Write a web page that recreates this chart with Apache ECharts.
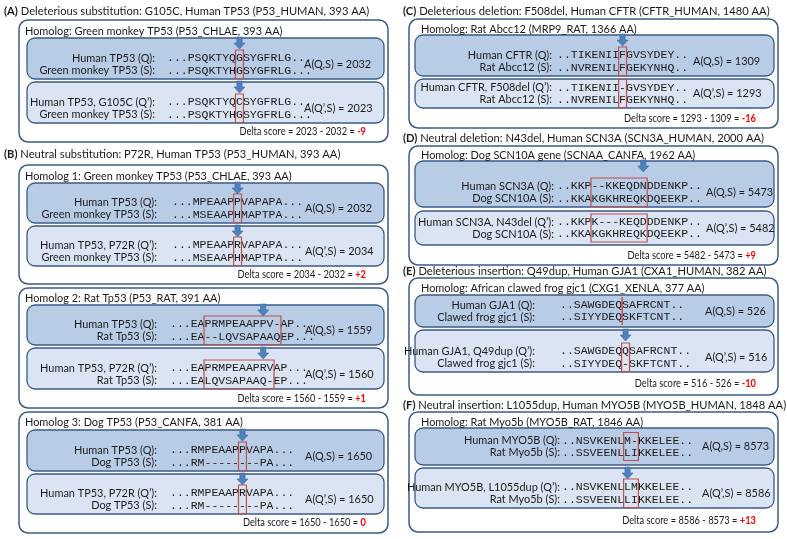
<!DOCTYPE html>
<html><head><meta charset="utf-8">
<script src="https://cdn.jsdelivr.net/npm/echarts@6/dist/echarts.min.js"></script>
<style>html,body{margin:0;padding:0;background:#fff}#c{width:787px;height:539px}</style>
</head><body><div id="c"></div>
<script>
// ---------------- DATA ----------------
const panelLetters = ['(A)', '(B)', '(C)', '(D)', '(E)', '(F)'];
const panelTitles = [
  'Deleterious substitution: G105C, Human TP53 (P53_HUMAN, 393 AA)',
  'Neutral substitution: P72R, Human TP53 (P53_HUMAN, 393 AA)',
  'Deleterious deletion: F508del, Human CFTR (CFTR_HUMAN, 1480 AA)',
  'Neutral deletion: N43del, Human SCN3A (SCN3A_HUMAN, 2000 AA)',
  'Deleterious insertion: Q49dup, Human GJA1 (CXA1_HUMAN, 382 AA)',
  'Neutral insertion: L1055dup, Human MYO5B (MYO5B_HUMAN, 1848 AA)'
];
const homologTitles = [
  'Homolog: Green monkey TP53 (P53_CHLAE, 393 AA)',
  'Homolog 1: Green monkey TP53 (P53_CHLAE, 393 AA)',
  'Homolog 2: Rat Tp53 (P53_RAT, 391 AA)',
  'Homolog 3: Dog TP53 (P53_CANFA, 381 AA)',
  'Homolog: Rat Abcc12 (MRP9_RAT, 1366 AA)',
  'Homolog: Dog SCN10A gene (SCNAA_CANFA, 1962 AA)',
  'Homolog: African clawed frog gjc1 (CXG1_XENLA, 377 AA)',
  'Homolog: Rat Myo5b (MYO5B_RAT, 1846 AA)'
];
const queryLabels = ['Human TP53 (Q):', 'Human TP53 (Q):', 'Human TP53 (Q):', 'Human TP53 (Q):',
  'Human CFTR (Q):', 'Human SCN3A (Q):', 'Human GJA1 (Q):', 'Human MYO5B (Q):'];
const mutantLabels = ['Human TP53, G105C (Q\u2019):', 'Human TP53, P72R (Q\u2019):', 'Human TP53, P72R (Q\u2019):',
  'Human TP53, P72R (Q\u2019):', 'Human CFTR, F508del (Q\u2019):', 'Human SCN3A, N43del (Q\u2019):',
  'Human GJA1, Q49dup (Q\u2019):', 'Human MYO5B, L1055dup (Q\u2019):'];
const subjectLabels = ['Green monkey TP53 (S):', 'Green monkey TP53 (S):', 'Rat Tp53 (S):', 'Dog TP53 (S):',
  'Rat Abcc12 (S):', 'Dog SCN10A (S):', 'Clawed frog gjc1 (S):', 'Rat Myo5b (S):'];
const querySeqs = ['...PSQKTYQGSYGFRLG...', '...MPEAAPPVAPAPA...', '...EAPRMPEAAPPV-AP...', '...RMPEAAPPVAPA...',
  '..TIKENIIFGVSYDEY..', '..KKP--KKEQDNDDENKP..', '..SAWGDEQSAFRCNT..', '..NSVKENLM-KKELEE..'];
const subjectSeqs1 = ['...PSQKTYHGSYGFRLG...', '...MSEAAPHMAPTPA...', '...EA--LQVSAPAAQEP...', '...RM--------PA...',
  '..NVRENILFGEKYNHQ..', '..KKAKGKHREQKDQEEKP..', '..SIYYDEQSKFTCNT..', '..SSVEENLLIKKELEE..'];
const mutantSeqs = ['...PSQKTYQCSYGFRLG...', '...MPEAAPRVAPAPA...', '...EAPRMPEAAPRVAP...', '...RMPEAAPRVAPA...',
  '..TIKENII-GVSYDEY..', '..KKPK---KEQDDDENKP..', '..SAWGDEQQSAFRCNT..', '..NSVKENLLMKKELEE..'];
const subjectSeqs2 = ['...PSQKTYHGSYGFRLG...', '...MSEAAPHMAPTPA...', '...EALQVSAPAAQ-EP...', '...RM--------PA...',
  '..NVRENILFGEKYNHQ..', '..KKAKGKHREQKDQEEKP..', '..SIYYDEQ-SKFTCNT..', '..SSVEENLLIKKELEE..'];
const scoreQS = [2032, 2032, 1559, 1650, 1309, 5473, 526, 8573];
const scoreMS = [2023, 2034, 1560, 1650, 1293, 5482, 516, 8586];
// highlighted alignment columns (start, end); end < start means an insertion point line
const hl1Start = [10, 9, 5, 10, 9, 5, 9, 9];
const hl1End   = [10, 9, 15, 10, 9, 12, 8, 10];
const hl2Start = [10, 9, 5, 10, 9, 5, 9, 9];
const hl2End   = [10, 9, 14, 10, 9, 12, 9, 10];
const arrowCol1 = [10, 9, 13, 10, 9, 12, -1, -1];
const arrowCol2 = [10, 9, 13, 10, -1, -1, 9, 9];

// ---------------- LAYOUT ----------------
const SANS = 'Lato, "Noto Sans", sans-serif';
const MONO = '"Liberation Mono", "DejaVu Sans Mono", monospace';
const FS = 11.5, TFS = 12, DFS = 10.8, SEQ_FS = 11.5;
const SX = 0.95, TSX = 0.93, DSX = 0.86;
const ctx = document.createElement('canvas').getContext('2d');
ctx.font = SEQ_FS + 'px "Liberation Mono"';
const CW = ctx.measureText('MMMMMMMMMM').width / 10;

const titlePos = [[4, 11], [4, 154], [403, 11], [403, 138], [403, 271], [403, 405]];
const cols = [{ox0: 19, ox1: 388, ix0: 27, ix1: 384, hx: 25}, {ox0: 409, ox1: 778, ix0: 415, ix1: 774, hx: 421}];
const blocks = [
  {c: 0, top: 20, bot: 142, hy: 31, b1: [38, 79], b2: [82, 123], dy: 132, lr: 155, sx: 167, scx: 304},
  {c: 0, top: 165, bot: 284, hy: 176, b1: [183, 223], b2: [226, 266], dy: 275, lr: 157, sx: 172, scx: 305},
  {c: 0, top: 288, bot: 408, hy: 298, b1: [305, 345], b2: [348, 389], dy: 399, lr: 157, sx: 170, scx: 305},
  {c: 0, top: 412, bot: 533, hy: 422, b1: [430, 471], b2: [474, 514], dy: 523, lr: 157, sx: 170, scx: 305},
  {c: 1, top: 19, bot: 128, hy: 29, b1: [35, 76], b2: [79, 108], dy: 119, lr: 552, sx: 557, scx: 693},
  {c: 1, top: 146, bot: 265, hy: 155, b1: [161, 207], b2: [211, 245], dy: 256, lr: 554, sx: 557, scx: 706},
  {c: 1, top: 278, bot: 395, hy: 288, b1: [295, 327], b2: [330, 372], dy: 384, lr: 535, sx: 560, scx: 705},
  {c: 1, top: 412, bot: 532, hy: 422, b1: [428, 465], b2: [468, 508], dy: 521, lr: 560, sx: 562, scx: 702}
];
const EDGE = '#3b5b86', FILL1 = '#b9cce6', FILL2 = '#dae4f2', RED = '#c0504d', ARROW = '#4f81bd', INK = '#1b1b1b';

function text(x, y, str, o) {
  o = o || {};
  return {type: 'text', x: x, y: y, z: o.z || 10, silent: true, scaleX: o.sx || 1, style: Object.assign({
    text: str, fontSize: o.fs || FS, fontFamily: o.ff || SANS, fontWeight: o.fw || 'normal', fill: o.fill || INK,
    align: o.align || 'left', verticalAlign: 'middle', textAlign: o.align || 'left', textVerticalAlign: 'middle'
  }, o.extra || {})};
}
function rrect(x0, y0, x1, y1, fill, lw, r, z) {
  return {type: 'rect', z: z, silent: true, shape: {x: x0, y: y0, width: x1 - x0, height: y1 - y0, r: r},
    style: {fill: fill, stroke: EDGE, lineWidth: lw}};
}
function arrow(cx, ty) {
  return {type: 'polygon', z: 20, silent: true, shape: {points: [
    [cx - 2.6, ty], [cx + 2.6, ty], [cx + 2.6, ty + 6], [cx + 5.5, ty + 6], [cx, ty + 12], [cx - 5.5, ty + 6], [cx - 2.6, ty + 6]
  ]}, style: {fill: ARROW, stroke: '#3c6aa3', lineWidth: 0.6}};
}

const els = [];
panelLetters.forEach((L, i) => {
  els.push(text(titlePos[i][0], titlePos[i][1], '{b|' + L + '} ' + panelTitles[i], {fs: TFS, sx: TSX,
    extra: {rich: {b: {fontWeight: 'bold', fontSize: TFS, fontFamily: SANS, fill: INK}}}}));
});

blocks.forEach((b, k) => {
  const c = cols[b.c];
  els.push(rrect(c.ox0, b.top, c.ox1, b.bot, '#fff', 1.5, 9, 1));
  els.push(text(c.hx, b.hy, homologTitles[k], {sx: SX}));
  const boxes = [
    {y: b.b1, fill: FILL1, l1: queryLabels[k], s1: querySeqs[k], s2: subjectSeqs1[k], ac: arrowCol1[k],
     hs: hl1Start[k], he: hl1End[k], sc: 'A(Q,S) = ' + scoreQS[k]},
    {y: b.b2, fill: FILL2, l1: mutantLabels[k], s1: mutantSeqs[k], s2: subjectSeqs2[k], ac: arrowCol2[k],
     hs: hl2Start[k], he: hl2End[k], sc: 'A(Q\u2019,S) = ' + scoreMS[k]}
  ];
  boxes.forEach(bx => {
    const [t, bt] = bx.y;
    els.push(rrect(c.ix0, t, c.ix1, bt, bx.fill, 1.3, 8, 2));
    let qy, sy;
    if (bx.ac >= 0) { qy = bt - 21; sy = bt - 8.5; } else { const m = (t + bt) / 2; qy = m - 6; sy = m + 6; }
    els.push(text(b.lr, qy, bx.l1, {align: 'right', sx: SX}));
    els.push(text(b.lr, sy, subjectLabels[k], {align: 'right', sx: SX}));
    els.push(text(b.sx, qy, bx.s1, {ff: MONO, fs: SEQ_FS}));
    els.push(text(b.sx, sy, bx.s2, {ff: MONO, fs: SEQ_FS}));
    els.push(text(b.scx, (qy + sy) / 2, bx.sc, {sx: SX}));
    if (bx.he >= bx.hs) {
      els.push({type: 'rect', z: 15, silent: true, shape: {x: b.sx + bx.hs * CW - 0.5, y: qy - 8,
        width: (bx.he - bx.hs + 1) * CW + 1, height: sy - qy + 16}, style: {fill: 'none', stroke: RED, lineWidth: 1.2}});
    } else {
      const lx = b.sx + bx.hs * CW;
      els.push({type: 'line', z: 15, silent: true, shape: {x1: lx, y1: qy - 8, x2: lx, y2: sy + 8},
        style: {stroke: RED, lineWidth: 1.5}});
    }
    if (bx.ac >= 0) els.push(arrow(b.sx + (bx.ac + 0.5) * CW, t - 1));
  });
  const d = scoreMS[k] - scoreQS[k];
  const ds = d > 0 ? '+' + d : String(d);
  els.push(text(c.ox1 - 22, b.dy, 'Delta score = ' + scoreMS[k] + ' - ' + scoreQS[k] + ' = {r|' + ds + '}', {align: 'right',
    fs: DFS, sx: DSX, extra: {rich: {r: {fill: '#ff0000', fontWeight: 'bold', fontSize: DFS, fontFamily: SANS}}}}));
});

const chart = echarts.init(document.getElementById('c'), null, {renderer: 'canvas'});
chart.setOption({animation: false, backgroundColor: '#ffffff', graphic: {elements: els}});
</script></body></html>
